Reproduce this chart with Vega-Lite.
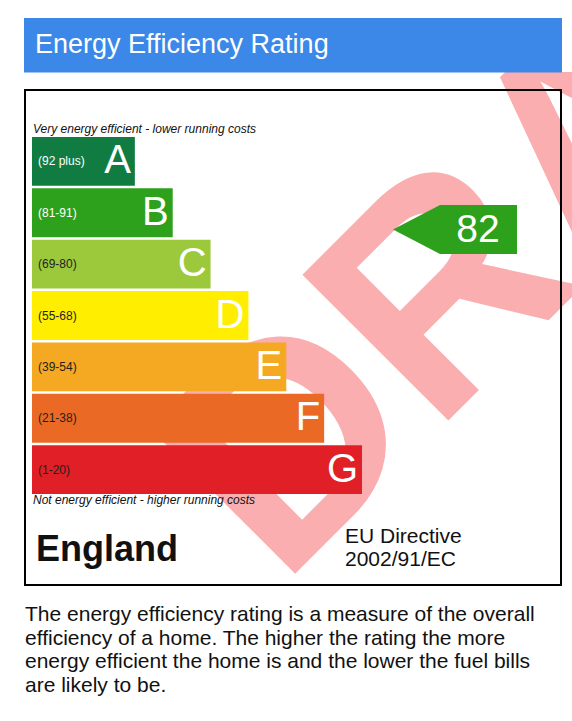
{
  "$schema": "https://vega.github.io/schema/vega-lite/v6.json",
  "width": 572,
  "height": 721,
  "autosize": "none",
  "padding": 0,
  "background": "white",
  "config": {
    "view": {"stroke": null},
    "axis": {"disable": true},
    "legend": {"disable": true},
    "text": {"font": "Liberation Sans"}
  },
  "data": {"values": [{}]},
  "resolve": {"scale": {"x": "independent", "y": "independent"}},
  "layer": [
    {
      "data": {"values": [{"word": "DRAFT"}]},
      "mark": {"type": "text", "x": 281, "y": 588, "angle": -45, "align": "left", "baseline": "alphabetic", "fontSize": 300, "fontWeight": "bold", "fill": "#fbaeb0"},
      "encoding": {"text": {"field": "word"}}
    },
    {
      "mark": {"type": "rect", "x": 0, "x2": 572, "y": 0, "y2": 72, "fill": "white"},
      "encoding": {}
    },
    {
      "mark": {"type": "rect", "x": 24, "x2": 562, "y": 18, "y2": 72.5, "fill": "#3b88e8"},
      "encoding": {}
    },
    {
      "mark": {"type": "text", "x": 35, "y": 53, "align": "left", "baseline": "alphabetic", "fontSize": 27, "fill": "white"},
      "encoding": {"text": {"value": "Energy Efficiency Rating"}}
    },
    {
      "mark": {"type": "rect", "x": 25, "x2": 561, "y": 90, "y2": 585, "fillOpacity": 0, "stroke": "black", "strokeWidth": 2},
      "encoding": {}
    },
    {
      "mark": {"type": "rule", "x": 25, "x2": 561, "y": 122, "stroke": "black", "strokeWidth": 2},
      "encoding": {}
    },
    {
      "mark": {"type": "rule", "x": 25, "x2": 561, "y": 509, "stroke": "black", "strokeWidth": 2},
      "encoding": {}
    },
    {
      "mark": {"type": "rule", "x": 383.5, "y": 90, "y2": 509, "stroke": "black", "strokeWidth": 2},
      "encoding": {}
    },
    {
      "mark": {"type": "text", "x": 33, "y": 133, "align": "left", "baseline": "alphabetic", "fontSize": 12, "fontStyle": "italic", "fill": "#111"},
      "encoding": {"text": {"value": "Very energy efficient - lower running costs"}}
    },
    {
      "mark": {"type": "text", "x": 33, "y": 504, "align": "left", "baseline": "alphabetic", "fontSize": 12, "fontStyle": "italic", "fill": "#111"},
      "encoding": {"text": {"value": "Not energy efficient - higher running costs"}}
    },
    {
      "data": {"values": [
        {"band": "A", "range": "(92 plus)", "rank": 1},
        {"band": "B", "range": "(81-91)", "rank": 2},
        {"band": "C", "range": "(69-80)", "rank": 3},
        {"band": "D", "range": "(55-68)", "rank": 4},
        {"band": "E", "range": "(39-54)", "rank": 5},
        {"band": "F", "range": "(21-38)", "rank": 6},
        {"band": "G", "range": "(1-20)", "rank": 7}
      ]},
      "encoding": {
        "y": {"field": "band", "type": "nominal", "scale": {"domain": ["A", "B", "C", "D", "E", "F", "G"], "range": [137, 494], "paddingInner": 0.05, "paddingOuter": 0}}
      },
      "layer": [
        {
          "mark": {"type": "rect", "x2": 32},
          "encoding": {
            "x": {"field": "rank", "type": "quantitative", "scale": {"domain": [0, 7], "range": [97, 362], "zero": false, "nice": false}},
            "color": {"field": "band", "type": "nominal", "scale": {"domain": ["A", "B", "C", "D", "E", "F", "G"], "range": ["#117c41", "#2da11c", "#9cc93c", "#ffee00", "#f5a822", "#ea6a25", "#e11f26"]}}
          }
        },
        {
          "mark": {"type": "text", "x": 38, "align": "left", "baseline": "middle", "fontSize": 12},
          "encoding": {
            "text": {"field": "range"},
            "color": {"condition": {"test": "datum.band == 'A' || datum.band == 'B'", "value": "white"}, "value": "#1e1e1e"}
          }
        },
        {
          "mark": {"type": "text", "align": "right", "baseline": "middle", "dx": -4, "fontSize": 40, "fill": "white"},
          "encoding": {
            "x": {"field": "rank", "type": "quantitative"},
            "text": {"field": "band"}
          }
        }
      ]
    },
    {
      "data": {"values": [{"rating": 82, "band": "B"}]},
      "encoding": {
        "y": {"field": "rating", "type": "quantitative", "scale": {"domain": [0, 100], "range": [651, 137], "zero": false, "nice": false}}
      },
      "layer": [
        {
          "mark": {"type": "point", "x": 455, "shape": "M-1,0L-0.242,-0.395L1,-0.395L1,0.395L-0.242,0.395Z", "filled": true, "size": 15376, "opacity": 1, "strokeWidth": 0},
          "encoding": {"color": {"field": "band", "type": "nominal"}}
        },
        {
          "mark": {"type": "text", "x": 478, "align": "center", "baseline": "middle", "fontSize": 39, "fill": "white"},
          "encoding": {"text": {"field": "rating"}}
        }
      ]
    },
    {
      "mark": {"type": "text", "x": 36, "y": 561, "align": "left", "baseline": "alphabetic", "fontSize": 36, "fontWeight": "bold", "fill": "#111"},
      "encoding": {"text": {"value": "England"}}
    },
    {
      "mark": {"type": "text", "x": 345, "y": 543, "align": "left", "baseline": "alphabetic", "fontSize": 21, "fill": "#111", "lineBreak": "\n", "lineHeight": 23},
      "encoding": {"text": {"value": "EU Directive\n2002/91/EC"}}
    },
    {
      "mark": {"type": "text", "x": 25, "y": 621, "align": "left", "baseline": "alphabetic", "fontSize": 21, "fill": "#111", "lineBreak": "\n", "lineHeight": 23.7},
      "encoding": {"text": {"value": "The energy efficiency rating is a measure of the overall\nefficiency of a home. The higher the rating the more\nenergy efficient the home is and the lower the fuel bills\nare likely to be."}}
    }
  ]
}
